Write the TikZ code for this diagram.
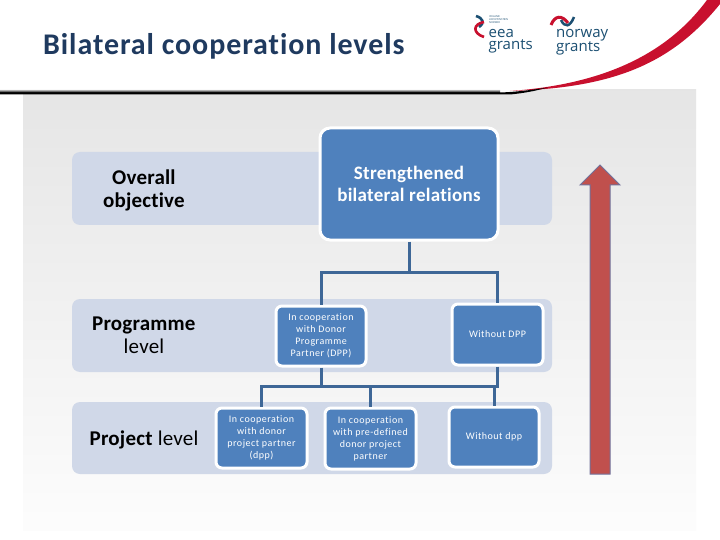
\documentclass[tikz,border=0pt]{standalone}
\usepackage{fontspec}
\setmainfont{Carlito}[Ligatures={NoCommon}]
\newfontfamily\logofont{Open Sans}
\definecolor{boxblue}{HTML}{4F81BD}
\definecolor{bandblue}{HTML}{D0D8E8}
\definecolor{linkblue}{HTML}{3E6797}
\definecolor{titleblue}{HTML}{1F3A5F}
\definecolor{swred}{HTML}{C8102E}
\definecolor{arrowred}{HTML}{C0504D}
\definecolor{logoblue}{HTML}{1B4F72}
\tikzset{
  band/.style={fill=bandblue,rounded corners=8pt},
  bigbox/.style={draw=white,line width=3pt,fill=boxblue,rounded corners=10pt,text=white,align=center,inner sep=0pt,font=\fontsize{19}{22}\selectfont\bfseries\addfontfeatures{LetterSpace=1.5}},
  smallbox/.style={draw=white,line width=3pt,fill=boxblue,rounded corners=6pt,text=white,align=center,inner sep=0pt,font=\fontsize{10}{12}\selectfont\addfontfeatures{LetterSpace=5}},
  lvl/.style={align=center,text=black,font=\fontsize{21}{23}\selectfont\addfontfeatures{LetterSpace=1}},
  link/.style={draw=linkblue,line width=3pt},
  logotxt/.style={text=logoblue,anchor=north west,inner sep=0pt,align=left,font=\logofont\fontsize{15}{11.5}\selectfont}
}
\begin{document}
\begin{tikzpicture}[x=1pt,y=-1pt]
\useasboundingbox (0,0) rectangle (720,540);
\fill[white] (0,0) rectangle (720,540);
% background panel
\shade[top color=black!10,bottom color=black!1] (23,90) rectangle (696,530);
% white header with curved edge
\fill[white] (0,0) -- (720,0) -- (720,4) .. controls (670,62) and (610,84) .. (510,93) -- (0,94) -- cycle;
% red swoosh and dark rule
\fill[swred] (510,91) .. controls (610,84) and (670,50) .. (707,0) -- (720,0) -- (720,4) .. controls (670,66) and (610,88) .. (510,91) -- cycle;
\shade[top color=black!30,bottom color=black] (0,90) rectangle (500,92.5);
\fill[black] (0,92.5) -- (500,92.5) .. controls (515,92) and (532,90) .. (548,87.5) .. controls (535,91) and (525,93) .. (510,94.5) -- (0,94.5) -- cycle;
% title
\node[anchor=west,inner sep=0pt,text=titleblue,font=\fontsize{30}{32}\selectfont\bfseries\addfontfeatures{LetterSpace=3.1}] (title) at (43,46.5) {Bilateral cooperation levels};
% logos
\draw[logoblue,line width=2.6pt] (476,16) .. controls (483,18) and (485,23) .. (479,27);
\draw[swred,line width=2.6pt] (484,22) .. controls (473,24) and (472,33) .. (484,37);
\node[text=logoblue,anchor=west,inner sep=0pt,align=left,font=\logofont\fontsize{2.6}{3}\selectfont] (eeasmall) at (489,19.5) {ICELAND\\LIECHTENSTEIN\\NORWAY};
\node[logotxt] (eea) at (488.5,29.5) {eea\\grants};
\draw[swred,line width=3pt] (551,25) .. controls (555,15) and (562,15) .. (568,23);
\draw[logoblue,line width=2.5pt] (561,20) .. controls (565,28) and (570,27) .. (574,17);
\node[logotxt] (nor) at (556,29) {norway\\grants};
% bands
\fill[band] (72,152) rectangle (552,225);
\fill[band] (72,299) rectangle (552,372);
\fill[band] (72,402) rectangle (552,474);
% level labels
\node[lvl] (l1) at (144,190) {\textbf{Overall}\\\textbf{objective}};
\node[lvl] (l2) at (144,335.5) {\textbf{Programme}\\level};
\node[lvl] (l3) at (144,439.5) {\textbf{Project} level};
% junctions
\coordinate (j1) at (409,272);
\coordinate (j2) at (321,386);
% boxes
\node[bigbox,minimum width=178pt,minimum height=112pt] (big) at (409,184) {Strengthened\\bilateral relations};
\node[smallbox,minimum width=90pt,minimum height=60pt] (dpp) at (321,336) {In cooperation\\with Donor\\Programme\\Partner (DPP)};
\node[smallbox,minimum width=91pt,minimum height=61pt] (wdpp) at (497.5,334.5) {Without DPP};
\node[smallbox,minimum width=91pt,minimum height=60pt] (pp) at (261.5,438) {In cooperation\\with donor\\project partner\\(dpp)};
\node[smallbox,minimum width=91pt,minimum height=61pt] (pre) at (370.5,438.5) {In cooperation\\with pre-defined\\donor project\\partner};
\node[smallbox,minimum width=90pt,minimum height=60pt] (wpp) at (494,437) {Without dpp};
% connectors
\draw[link] (big.south) -- (j1);
\draw[link] (dpp.north) |- (j1);
\draw[link] (wdpp.north) |- (j1);
\draw[link] (dpp.south) -- (j2);
\draw[link] (wdpp.south) |- (j2);
\draw[link] (pp.north) |- (j2);
\draw[link] (pre.north) |- (j2);
\draw[link] (wpp.north) -- (wpp.north |- j2);
% arrow
\draw[draw=boxblue!70!arrowred,fill=arrowred,line width=1pt] (600,165) -- (620,185) -- (610,185) -- (610,474) -- (590,474) -- (590,185) -- (580,185) -- cycle;
\end{tikzpicture}
\end{document}
